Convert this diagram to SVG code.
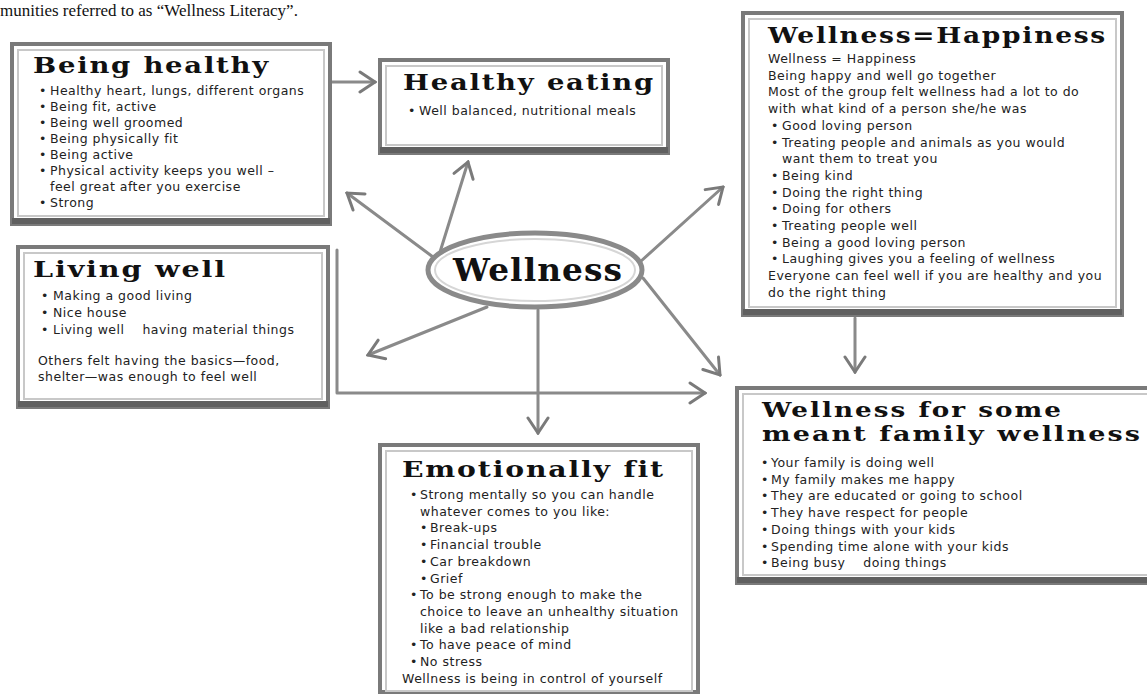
<svg xmlns="http://www.w3.org/2000/svg" width="1147" height="695" viewBox="0 0 1147 695">
<style>
.frame{fill:#fff;stroke:#7a7a7a;stroke-width:4}
.inner{fill:none;stroke:#c8c8c8;stroke-width:2}
.shadow{fill:#606060}
.title{font-family:"DejaVu Serif",serif;font-weight:bold;font-size:23px;letter-spacing:1.5px;fill:#111}
.body{font-family:"DejaVu Sans",sans-serif;font-size:12.5px;letter-spacing:0.5px;fill:#222}
.conn{fill:none;stroke:#8a8a8a;stroke-width:3;stroke-linecap:round;stroke-linejoin:round}
.top{font-family:"Liberation Serif",serif;font-size:17px;fill:#111}
</style>
<defs>
<marker id="arr" viewBox="-18 -12 20 24" refX="0" refY="0" markerWidth="20" markerHeight="24" markerUnits="userSpaceOnUse" orient="auto">
<path d="M-15,-10 L0,0 L-15,10" fill="none" stroke="#7a7a7a" stroke-width="3" stroke-linecap="round"/>
</marker>
</defs>
<rect width="1147" height="695" fill="#fff"/>
<text class="top" x="0" y="16">munities referred to as “Wellness Literacy”.</text>

<g id="connectors">
<path class="conn" d="M330,82 L375,82" marker-end="url(#arr)"/>
<path class="conn" d="M433,257 L347,193" marker-end="url(#arr)"/>
<path class="conn" d="M440,252 L468,162" marker-end="url(#arr)"/>
<path class="conn" d="M640,262 L723,187" marker-end="url(#arr)"/>
<path class="conn" d="M487,307 L368,355" marker-end="url(#arr)"/>
<path class="conn" d="M538,310 L538,433" marker-end="url(#arr)"/>
<path class="conn" d="M643,278 L720,375" marker-end="url(#arr)"/>
<path class="conn" d="M337,250 L337,393 L705,393" marker-end="url(#arr)"/>
<path class="conn" d="M855,318 L855,372" marker-end="url(#arr)"/>
</g>

<g id="being-healthy">
<rect class="frame" x="12" y="44" width="318" height="180"/>
<rect class="inner" x="18" y="50" width="306" height="166"/>
<rect class="shadow" x="12" y="218" width="318" height="6"/>
<text class="title" x="33" y="73" textLength="237" lengthAdjust="spacingAndGlyphs">Being healthy</text>
<g class="body">
<text x="39" y="95">•</text><text x="50" y="95">Healthy heart, lungs, different organs</text>
<text x="39" y="111">•</text><text x="50" y="111">Being fit, active</text>
<text x="39" y="127">•</text><text x="50" y="127">Being well groomed</text>
<text x="39" y="143">•</text><text x="50" y="143">Being physically fit</text>
<text x="39" y="159">•</text><text x="50" y="159">Being active</text>
<text x="39" y="175">•</text><text x="50" y="175">Physical activity keeps you well –</text>
<text x="50" y="191">feel great after you exercise</text>
<text x="39" y="207">•</text><text x="50" y="207">Strong</text>
</g>
</g>

<g id="healthy-eating">
<rect class="frame" x="380" y="60" width="288" height="93"/>
<rect class="inner" x="386" y="66" width="276" height="79"/>
<rect class="shadow" x="380" y="147" width="288" height="6"/>
<text class="title" x="403" y="90" textLength="252" lengthAdjust="spacingAndGlyphs">Healthy eating</text>
<g class="body">
<text x="408" y="115">•</text><text x="419" y="115">Well balanced, nutritional meals</text>
</g>
</g>

<g id="wellness-happiness">
<rect class="frame" x="743" y="13" width="379" height="302"/>
<rect class="inner" x="749" y="19" width="367" height="288"/>
<rect class="shadow" x="743" y="309" width="379" height="6"/>
<text class="title" x="768" y="43" textLength="339" lengthAdjust="spacingAndGlyphs">Wellness=Happiness</text>
<g class="body">
<text x="768" y="63">Wellness = Happiness</text>
<text x="768" y="79.7">Being happy and well go together</text>
<text x="768" y="96.4">Most of the group felt wellness had a lot to do</text>
<text x="768" y="113.1">with what kind of a person she/he was</text>
<text x="771" y="129.8">•</text><text x="782" y="129.8">Good loving person</text>
<text x="771" y="146.5">•</text><text x="782" y="146.5">Treating people and animals as you would</text>
<text x="782" y="163.2">want them to treat you</text>
<text x="771" y="179.9">•</text><text x="782" y="179.9">Being kind</text>
<text x="771" y="196.6">•</text><text x="782" y="196.6">Doing the right thing</text>
<text x="771" y="213.3">•</text><text x="782" y="213.3">Doing for others</text>
<text x="771" y="230">•</text><text x="782" y="230">Treating people well</text>
<text x="771" y="246.7">•</text><text x="782" y="246.7">Being a good loving person</text>
<text x="771" y="263.4">•</text><text x="782" y="263.4">Laughing gives you a feeling of wellness</text>
<text x="768" y="280.1">Everyone can feel well if you are healthy and you</text>
<text x="768" y="296.8">do the right thing</text>
</g>
</g>

<g id="living-well">
<rect class="frame" x="18" y="247" width="310" height="160"/>
<rect class="inner" x="24" y="253" width="298" height="146"/>
<rect class="shadow" x="18" y="401" width="310" height="6"/>
<text class="title" x="33" y="277" textLength="194" lengthAdjust="spacingAndGlyphs">Living well</text>
<g class="body">
<text x="41" y="300">•</text><text x="53" y="300">Making a good living</text>
<text x="41" y="317">•</text><text x="53" y="317">Nice house</text>
<text x="41" y="334">•</text><text x="53" y="334" xml:space="preserve">Living well    having material things</text>
<text x="38" y="365">Others felt having the basics—food,</text>
<text x="38" y="381">shelter—was enough to feel well</text>
</g>
</g>

<g id="wellness">
<ellipse cx="535" cy="270" rx="107" ry="37" fill="#fff" stroke="#8a8a8a" stroke-width="5"/>
<ellipse cx="535" cy="270" rx="100" ry="31" fill="none" stroke="#d6d6d6" stroke-width="2"/>
<text class="title" x="453" y="281" style="font-size:31px;letter-spacing:1px" textLength="170" lengthAdjust="spacingAndGlyphs">Wellness</text>
</g>

<g id="emotionally-fit">
<rect class="frame" x="380" y="445" width="318" height="247"/>
<rect class="inner" x="386" y="451" width="306" height="240"/>
<text class="title" x="402" y="477" textLength="263" lengthAdjust="spacingAndGlyphs">Emotionally fit</text>
<g class="body">
<text x="410" y="499">•</text><text x="420" y="499">Strong mentally so you can handle</text>
<text x="420" y="515.7">whatever comes to you like:</text>
<text x="420" y="532.4">•</text><text x="430" y="532.4">Break-ups</text>
<text x="420" y="549.1">•</text><text x="430" y="549.1">Financial trouble</text>
<text x="420" y="565.8">•</text><text x="430" y="565.8">Car breakdown</text>
<text x="420" y="582.5">•</text><text x="430" y="582.5">Grief</text>
<text x="410" y="599.2">•</text><text x="420" y="599.2">To be strong enough to make the</text>
<text x="420" y="615.9">choice to leave an unhealthy situation</text>
<text x="420" y="632.6">like a bad relationship</text>
<text x="410" y="649.3">•</text><text x="420" y="649.3">To have peace of mind</text>
<text x="410" y="666">•</text><text x="420" y="666">No stress</text>
<text x="402" y="682.7">Wellness is being in control of yourself</text>
</g>
</g>

<g id="family-wellness">
<rect class="frame" x="737" y="388" width="412" height="195"/>
<rect class="inner" x="743" y="394" width="406" height="181"/>
<rect class="shadow" x="737" y="577" width="412" height="6"/>
<text class="title" x="762" y="417" style="font-size:19.5px" textLength="301" lengthAdjust="spacingAndGlyphs">Wellness for some</text>
<text class="title" x="762" y="441" style="font-size:19.5px" textLength="380" lengthAdjust="spacingAndGlyphs">meant family wellness</text>
<g class="body">
<text x="761" y="467">•</text><text x="771" y="467">Your family is doing well</text>
<text x="761" y="483.7">•</text><text x="771" y="483.7">My family makes me happy</text>
<text x="761" y="500.4">•</text><text x="771" y="500.4">They are educated or going to school</text>
<text x="761" y="517.1">•</text><text x="771" y="517.1">They have respect for people</text>
<text x="761" y="533.8">•</text><text x="771" y="533.8">Doing things with your kids</text>
<text x="761" y="550.5">•</text><text x="771" y="550.5">Spending time alone with your kids</text>
<text x="761" y="567.2">•</text><text x="771" y="567.2" xml:space="preserve">Being busy    doing things</text>
</g>
</g>
</svg>
